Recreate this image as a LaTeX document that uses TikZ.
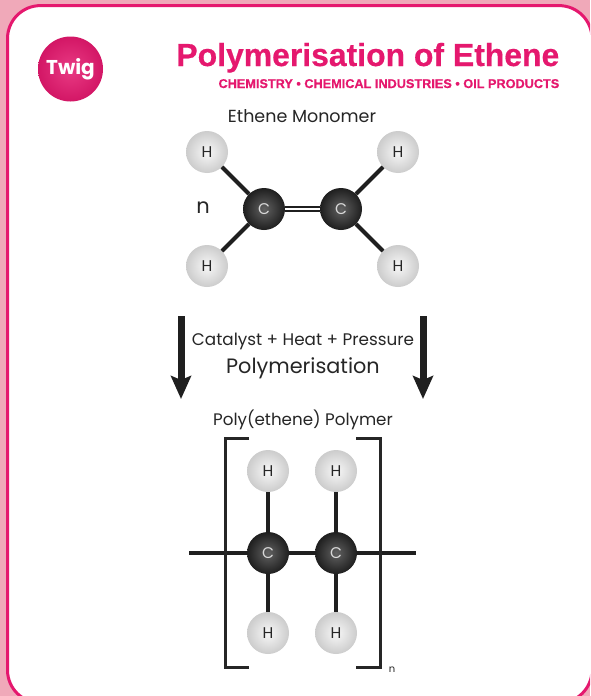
\documentclass[tikz,border=0pt]{standalone}
\usepackage{fontspec}
\setmainfont{Poppins}
\newfontfamily\titlefont[BoldFeatures={FakeBold=0.5}]{Liberation Sans}
\usetikzlibrary{arrows.meta,positioning}
\definecolor{twigpink}{HTML}{E5186E}
\definecolor{backpink}{HTML}{F0A9B9}
\tikzset{
    atom/.style={circle,minimum size=42pt,inner sep=0pt,font=\fontsize{15.5}{15.5}\selectfont},
    hydrogen/.style={atom,inner color=gray!6,outer color=gray!40,text=black!85},
    carbon/.style={atom,inner color=black!62,outer color=black!88,text=white!85!black},
    bond/.style={line width=4pt,black!88},
    bracket/.style={line width=3pt,black!85},
    bigarrow/.style={line width=7pt,black!88,-{Stealth[width=20pt,length=23pt,inset=4pt]}},
    caption/.style={inner sep=0pt,text=black!85}
}
\begin{document}
\begin{tikzpicture}[x=1pt,y=-1pt,node distance=57pt and 57pt,on grid]
            \useasboundingbox (0,0) rectangle (590,696);
            \clip (0,0) rectangle (590,696);
            \fill[backpink] (0,0) rectangle (590,696);
            \draw[twigpink,fill=white,line width=3pt,rounded corners=33pt] (7.5,5.6) rectangle (592,703);
            % header
            \node[circle,minimum size=65pt,inner sep=0pt,inner color=twigpink!85!white,outer color=twigpink!92!black,text=white,font=\fontsize{20}{20}\selectfont\bfseries] (logo) at (70.5,69) {Twig};
            \node[anchor=base east,inner sep=0pt,text=twigpink,font=\titlefont\fontsize{31.9}{31.9}\selectfont\bfseries] (title) at (559.5,66) {Polymerisation of Ethene};
            \node[anchor=base east,inner sep=0pt,text=twigpink,font=\titlefont\fontsize{12.7}{12.7}\selectfont\bfseries] (subtitle) at (559.5,88) {CHEMISTRY • CHEMICAL INDUSTRIES • OIL PRODUCTS};
            % monomer
            \node[caption,font=\fontsize{17.5}{17.5}\selectfont] (monomer) at (302,116) {Ethene Monomer};
            \node[carbon] (c_1) at (264,209) {C};
            \node[carbon] (c_2) [right=77pt of c_1] {C};
            \node[hydrogen] (h_1) [above left=of c_1] {H};
            \node[hydrogen] (h_2) [below left=of c_1] {H};
            \node[hydrogen] (h_3) [above right=of c_2] {H};
            \node[hydrogen] (h_4) [below right=of c_2] {H};
            \node[caption,font=\fontsize{21}{21}\selectfont] (count) at (203,208) {n};
            \draw[bond] (c_1) -- (h_1);
            \draw[bond] (c_1) -- (h_2);
            \draw[bond] (c_2) -- (h_3);
            \draw[bond] (c_2) -- (h_4);
            \draw[black!88,line width=1.8pt,double=white,double distance=1.5pt] (c_1) -- (c_2);
            % reaction
            \node[caption,font=\fontsize{16.8}{16.8}\selectfont] (reaction) at (303,341) {Catalyst + Heat + Pressure};
            \node[caption,font=\fontsize{20.8}{20.8}\selectfont] (process) at (303,368) {Polymerisation};
            \coordinate (a_1) at (181,316);
            \coordinate (a_2) at (181,399);
            \coordinate (a_3) at (423,316);
            \coordinate (a_4) at (423,399);
            \draw[bigarrow] (a_1) -- (a_2);
            \draw[bigarrow] (a_3) -- (a_4);
            % polymer
            \node[caption,font=\fontsize{16.7}{16.7}\selectfont] (polymer) at (303,420) {Poly(ethene) Polymer};
            \node[carbon] (c_3) at (268,553) {C};
            \node[carbon] (c_4) [right=68pt of c_3] {C};
            \node[hydrogen] (h_5) [above=82pt of c_3] {H};
            \node[hydrogen] (h_6) [above=82pt of c_4] {H};
            \node[hydrogen] (h_7) [below=80pt of c_3] {H};
            \node[hydrogen] (h_8) [below=80pt of c_4] {H};
            \coordinate (e_1) at (189,553);
            \coordinate (e_2) at (416,553);
            \draw[bond] (c_3) -- (h_5);
            \draw[bond] (c_4) -- (h_6);
            \draw[bond] (c_3) -- (h_7);
            \draw[bond] (c_4) -- (h_8);
            \draw[bond] (e_1) -- (c_3);
            \draw[bond] (c_3) -- (c_4);
            \draw[bond] (c_4) -- (e_2);
            \coordinate (b_1) at (249,438);
            \coordinate (b_2) at (225,438);
            \coordinate (b_3) at (225,667);
            \coordinate (b_4) at (249,667);
            \coordinate (b_5) at (356,438);
            \coordinate (b_6) at (380,438);
            \coordinate (b_7) at (380,667);
            \coordinate (b_8) at (356,667);
            \draw[bracket] (b_1) -- (b_2) -- (b_3) -- (b_4);
            \draw[bracket] (b_5) -- (b_6) -- (b_7) -- (b_8);
            \node[caption,font=\fontsize{10}{10}\selectfont] (repeat) at (392,670) {n};
        \end{tikzpicture}
\end{document}
